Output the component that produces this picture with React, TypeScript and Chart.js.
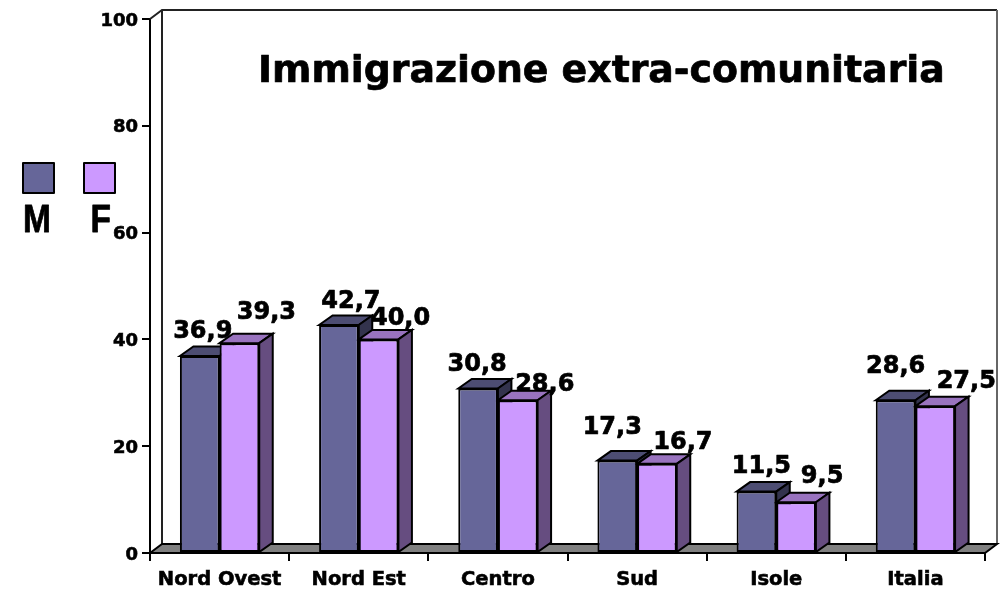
import React, { useEffect, useRef } from "react";
import { Chart, registerables } from "chart.js";

Chart.register(...registerables);

const categories = ["Nord Ovest", "Nord Est", "Centro", "Sud", "Isole", "Italia"];
const seriesM = [36.9, 42.7, 30.8, 17.3, 11.5, 28.6];
const seriesF = [39.3, 40.0, 28.6, 16.7, 9.5, 27.5];
const yTicks = [0, 20, 40, 60, 80, 100];
const titleText = "Immigrazione extra-comunitaria";

// label placement relative to each bar's top centre: [dx, baseline rise]
const labelNudgeM = [[3, 18], [12, 17], [-1, 18], [-5, 27], [5, 19], [0, 27]];
const labelNudgeF = [[27, 24], [22, 14], [27, 9], [26, 15], [26, 19], [31, 18]];

const FONT = '"DejaVu Sans", sans-serif';
const styles = [
  { front: "#666699", top: "#4d4d73", side: "#33334d" },
  { front: "#cc99ff", top: "#9973bf", side: "#664d80" },
];

const heavyText = (ctx: any, text: string, x: number, y: number, weight: number) => {
  ctx.lineJoin = "round";
  ctx.lineWidth = weight;
  ctx.strokeStyle = "#000";
  ctx.strokeText(text, x, y);
  ctx.fillText(text, x, y);
};

const box3d = {
  id: "box3d",
  beforeDatasetsDraw(chart: any) {
    const { ctx, chartArea: a } = chart;
    const fx = 12, fy = 9;
    ctx.save();
    ctx.lineJoin = "miter";
    // back walls
    ctx.lineWidth = 2;
    ctx.strokeStyle = "#222";
    ctx.beginPath();
    ctx.moveTo(a.left, a.top);
    ctx.lineTo(a.left + fx, a.top - fy);
    ctx.lineTo(a.right + fx, a.top - fy);
    ctx.moveTo(a.left + fx, a.top - fy);
    ctx.lineTo(a.left + fx, a.bottom - fy);
    ctx.stroke();
    ctx.strokeStyle = "#666";
    ctx.beginPath();
    ctx.moveTo(a.right + fx, a.top - fy);
    ctx.lineTo(a.right + fx, a.bottom - fy);
    ctx.stroke();
    // floor
    ctx.fillStyle = "#808080";
    ctx.strokeStyle = "#000";
    ctx.beginPath();
    ctx.moveTo(a.left, a.bottom);
    ctx.lineTo(a.left + fx, a.bottom - fy);
    ctx.lineTo(a.right + fx, a.bottom - fy);
    ctx.lineTo(a.right, a.bottom);
    ctx.closePath();
    ctx.fill();
    ctx.stroke();
    // bar tops and sides
    const dx = 13.5, dy = 9.5;
    [0, 1].forEach((d) => {
      chart.getDatasetMeta(d).data.forEach((bar: any) => {
        const half = bar.width / 2;
        const l = bar.x - half, r = bar.x + half, t = bar.y, b = bar.base;
        ctx.lineWidth = 2;
        ctx.strokeStyle = "#000";
        ctx.fillStyle = styles[d].top;
        ctx.beginPath();
        ctx.moveTo(l, t);
        ctx.lineTo(l + dx, t - dy);
        ctx.lineTo(r + dx, t - dy);
        ctx.lineTo(r, t);
        ctx.closePath();
        ctx.fill();
        ctx.stroke();
        ctx.fillStyle = styles[d].side;
        ctx.beginPath();
        ctx.moveTo(r, t);
        ctx.lineTo(r + dx, t - dy);
        ctx.lineTo(r + dx, b - dy);
        ctx.lineTo(r, b);
        ctx.closePath();
        ctx.fill();
        ctx.stroke();
      });
    });
    ctx.restore();
  },
  afterDraw(chart: any) {
    const { ctx } = chart;
    ctx.save();
    ctx.fillStyle = "#000";
    ctx.textBaseline = "alphabetic";
    // data labels
    ctx.font = `bold 24px ${FONT}`;
    ctx.textAlign = "center";
    [labelNudgeM, labelNudgeF].forEach((nudge, d) => {
      chart.getDatasetMeta(d).data.forEach((bar: any, i: number) => {
        const text = chart.data.datasets[d].data[i].toFixed(1).replace(".", ",");
        heavyText(ctx, text, bar.x + nudge[i][0], bar.y - nudge[i][1], 0.7);
      });
    });
    // title
    ctx.font = `bold 37.8px ${FONT}`;
    ctx.textAlign = "left";
    heavyText(ctx, titleText, 258, 82, 0.7);
    // hand-placed legend
    chart.data.datasets.forEach((ds: any, d: number) => {
      const x = d === 0 ? 23 : 84;
      ctx.fillStyle = ds.backgroundColor;
      ctx.strokeStyle = "#000";
      ctx.lineWidth = 2;
      ctx.fillRect(x, 163, 31, 30);
      ctx.strokeRect(x, 163, 31, 30);
      ctx.fillStyle = "#000";
      ctx.font = 'bold 38px "Liberation Sans", sans-serif';
      ctx.textAlign = "left";
      ctx.save();
      ctx.translate(d === 0 ? 23 : 90.5, 232);
      ctx.scale(0.88, 1);
      heavyText(ctx, ds.label, 0, 0, 0.8);
      ctx.restore();
    });
    ctx.restore();
  },
};

export default function App() {
  const ref = useRef<HTMLCanvasElement>(null);
  useEffect(() => {
    const chart = new Chart(ref.current!, {
      type: "bar",
      data: {
        labels: categories,
        datasets: [
          { label: "M", data: seriesM, backgroundColor: styles[0].front, borderColor: "#000", borderWidth: 2, borderSkipped: false },
          { label: "F", data: seriesF, backgroundColor: styles[1].front, borderColor: "#000", borderWidth: 2, borderSkipped: false },
        ],
      },
      options: {
        responsive: false,
        animation: false,
        layout: { padding: { top: 19, right: 20, left: 0, bottom: 0 } },
        datasets: { bar: { categoryPercentage: 0.57, barPercentage: 1 } },
        plugins: { legend: { display: false }, tooltip: { enabled: false }, title: { display: false } },
        scales: {
          x: {
            afterFit: (s: any) => { s.height = 36; },
            grid: { offset: true, drawOnChartArea: false, drawTicks: true, tickLength: 8, color: "#000", lineWidth: 2 },
            border: { display: true, color: "#000", width: 2 },
            ticks: { color: "#000", font: { family: FONT, weight: "bold", size: 19.5 }, padding: 7, maxRotation: 0, autoSkip: false, textStrokeColor: "#000", textStrokeWidth: 0.6 },
          },
          y: {
            min: 0,
            max: 100,
            afterFit: (s: any) => { s.width = 150; },
            afterBuildTicks: (s: any) => { s.ticks = yTicks.map((value) => ({ value })); },
            grid: { drawOnChartArea: false, drawTicks: true, tickLength: 8, color: "#000", lineWidth: 2 },
            border: { display: true, color: "#000", width: 2 },
            ticks: { color: "#000", font: { family: FONT, weight: "bold", size: 18 }, padding: 4, labelOffset: 2, textStrokeColor: "#000", textStrokeWidth: 0.6 },
          },
        },
      } as any,
      plugins: [box3d],
    });
    return () => chart.destroy();
  }, []);
  return (
    <canvas
      ref={ref}
      width={1005}
      height={589}
      style={{ position: "absolute", left: 0, top: 0, display: "block" }}
    />
  );
}
